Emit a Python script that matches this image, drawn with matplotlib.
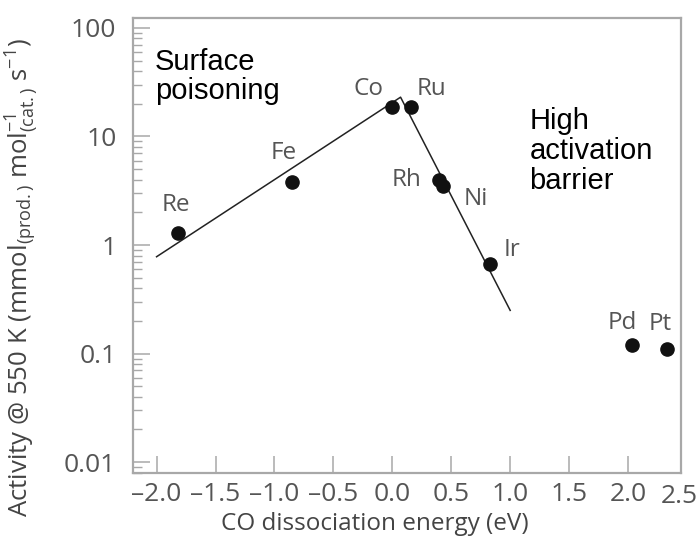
"""CO dissociation energy vs. activity — volcano plot."""

import matplotlib

matplotlib.use("Agg")
import matplotlib.pyplot as plt

plt.rcParams["font.family"] = ["Open Sans", "DejaVu Sans"]
plt.rcParams["mathtext.fontset"] = "custom"
plt.rcParams["mathtext.rm"] = "Open Sans"
plt.rcParams["mathtext.it"] = "Open Sans:italic"

# data
metals = ["Re", "Fe", "Co", "Ru", "Rh", "Ni", "Ir", "Pd", "Pt"]
energy = [-1.82, -0.85, 0.0, 0.16, 0.40, 0.43, 0.83, 2.03, 2.33]
activity = [1.28, 3.8, 18.5, 18.5, 4.0, 3.5, 0.67, 0.12, 0.11]
# label offsets in pixels (dx, dy)
label_off = [(-2, 28), (-8, 29), (-24, 18), (20, 18), (-33, 0), (33, -13), (22, 14), (-9, 22), (-7, 25)]

fit_x = [-2.0, 0.07, 1.0]
fit_y = [0.78, 23.0, 0.25]

xticks = [-2.0, -1.5, -1.0, -0.5, 0.0, 0.5, 1.0, 1.5, 2.0]
yticks = [0.01, 0.1, 1, 10, 100]
ytick_labels = ["0.01", "0.1", "1", "10", "100"]

TICK_C = "#555555"
SPINE_C = "#a8a8a8"

fig = plt.figure(figsize=(7.0, 5.49), dpi=100)
ax = fig.add_axes([0.19, 0.139, 0.783, 0.828])

ax.plot(fit_x, fit_y, color="#222222", lw=1.1, zorder=2)
ax.plot(energy, activity, "o", color="#111111", ms=9.5, zorder=3)

for m, x, y, (dx, dy) in zip(metals, energy, activity, label_off):
    ax.annotate(m, (x, y), xytext=(dx * 0.72, dy * 0.72), textcoords="offset points",
                ha="center", va="center", fontsize=17.5, color="#555555")

ax.text(0.04, 0.935, "Surface\npoisoning", transform=ax.transAxes, ha="left", va="top",
        fontsize=21, family="Liberation Sans", color="black", linespacing=1.05)
ax.text(0.723, 0.805, "High\nactivation\nbarrier", transform=ax.transAxes, ha="left", va="top",
        fontsize=21, family="Liberation Sans", color="black", linespacing=1.1)

ax.set_yscale("log")
ax.set_xlim(-2.2, 2.45)
ax.set_ylim(0.008, 123)
ax.set_xticks(xticks)
ax.set_xticklabels([f"{t:.1f}".replace("-", "\u2013") for t in xticks])
ax.set_yticks(yticks)
ax.set_yticklabels(ytick_labels)

# last x label sits squeezed against the right spine in the original
ax.text(0.996, -0.024, "2.5", transform=ax.transAxes, ha="center", va="top", fontsize=19,
        color=TICK_C, clip_on=False)

ax.tick_params(axis="both", which="major", direction="in", length=12, width=1.1,
               color=SPINE_C, labelsize=19, labelcolor=TICK_C)
ax.tick_params(axis="y", which="minor", direction="in", length=6.5, width=1.0, color=SPINE_C)
ax.tick_params(axis="x", pad=7)
ax.tick_params(axis="y", pad=12)
for s in ax.spines.values():
    s.set_color(SPINE_C)
    s.set_linewidth(1.6)

ax.set_xlabel("CO dissociation energy (eV)", fontsize=17.5, color="#444444")
ax.xaxis.set_label_coords(0.442, -0.087)
ax.set_ylabel(r"Activity @ 550 K (mmol$_{\mathrm{(prod.)}}$ mol$^{-1}_{\mathrm{(cat.)}}$ s$^{-1}$)",
              fontsize=18.5, color="#444444")
ax.yaxis.set_label_coords(-0.17, 0.43)

fig.savefig("out.png", dpi=100, facecolor="white")
